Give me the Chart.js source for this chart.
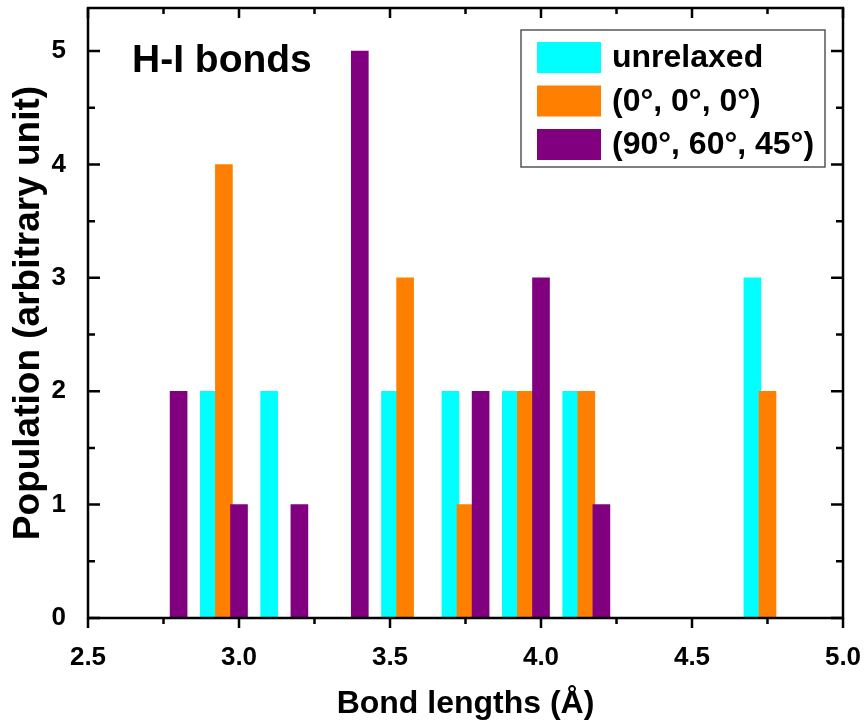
<!DOCTYPE html>
<html>
<head>
<meta charset="utf-8">
<script src="https://cdn.jsdelivr.net/npm/chart.js@4.4.1/dist/chart.umd.min.js"></script>
<style>
  html, body { margin: 0; padding: 0; background: #fff; }
  #wrap { width: 865px; height: 724px; }
</style>
</head>
<body>
<div id="wrap"><canvas id="bondChart"></canvas></div>
<script>
// H-I bond length populations (Å -> count) for each geometry
const unrelaxedLengths = [2.9, 3.1, 3.5, 3.7, 3.9, 4.1, 4.7];
const unrelaxedCounts  = [2, 2, 2, 2, 2, 2, 3];
const zeroLengths = [2.95, 3.55, 3.75, 3.95, 4.15, 4.75];
const zeroCounts  = [4, 3, 1, 2, 2, 2];
const rotLengths = [2.8, 3.0, 3.2, 3.4, 3.8, 4.0, 4.2];
const rotCounts  = [2, 1, 1, 5, 2, 3, 1];

const seriesLabels = ['unrelaxed', '(0°, 0°, 0°)', '(90°, 60°, 45°)'];
const seriesColors = ['#00FFFF', '#FF8000', '#800080'];
const xTicks = [2.5, 3.0, 3.5, 4.0, 4.5, 5.0];
const yTicks = [0, 1, 2, 3, 4, 5];

const FONT = '"Liberation Sans", Arial, sans-serif';

function toPoints(xs, ys) {
    return xs.map((x, i) => ({ x: x, y: ys[i] }));
}

// midpoints between major ticks give the minor ticks
function minorOf(ticks) {
    return ticks.slice(1).map((v, i) => (v + ticks[i]) / 2);
}

// box frame with ticks: outward on the bottom, inward everywhere else
const frameTicks = {
    id: 'frameTicks',
    afterDatasetsDraw(chart) {
        const { ctx, chartArea: a, scales: { x, y } } = chart;
        ctx.save();
        ctx.strokeStyle = '#000';
        ctx.lineWidth = 2.5;
        ctx.strokeRect(a.left, a.top, a.right - a.left, a.bottom - a.top);
        ctx.beginPath();
        const xMark = (v, len) => {
            const px = x.getPixelForValue(v);
            ctx.moveTo(px, a.bottom); ctx.lineTo(px, a.bottom + len);
            ctx.moveTo(px, a.top); ctx.lineTo(px, a.top + len);
        };
        const yMark = (v, len) => {
            const py = y.getPixelForValue(v);
            ctx.moveTo(a.left, py); ctx.lineTo(a.left + len, py);
            ctx.moveTo(a.right, py); ctx.lineTo(a.right - len, py);
        };
        xTicks.forEach(v => xMark(v, 10));
        minorOf(xTicks).forEach(v => xMark(v, 6));
        yTicks.forEach(v => yMark(v, 12));
        minorOf(yTicks).forEach(v => yMark(v, 7));
        ctx.stroke();
        ctx.restore();
    }
};

// boxed legend in the upper right and the panel label in the upper left
const panelLegend = {
    id: 'panelLegend',
    afterDraw(chart) {
        const { ctx, chartArea: a } = chart;
        ctx.save();

        ctx.fillStyle = '#000';
        ctx.font = 'bold 39px ' + FONT;
        ctx.textBaseline = 'alphabetic';
        ctx.textAlign = 'left';
        ctx.fillText('H-I bonds', a.left + 44, a.top + 64);

        const boxRight = a.right - 18;
        const boxLeft = boxRight - 304;
        const boxTop = a.top + 22;
        const boxH = 137;
        ctx.fillStyle = '#fff';
        ctx.fillRect(boxLeft, boxTop, boxRight - boxLeft, boxH);
        ctx.strokeStyle = '#555';
        ctx.lineWidth = 1.5;
        ctx.strokeRect(boxLeft, boxTop, boxRight - boxLeft, boxH);

        ctx.font = 'bold 32px ' + FONT;
        ctx.textBaseline = 'middle';
        chart.data.datasets.forEach((ds, i) => {
            const cy = boxTop + 27.5 + i * 43.5;
            ctx.fillStyle = ds.backgroundColor;
            ctx.fillRect(boxLeft + 16, cy - 15.5, 64, 31);
            ctx.fillStyle = '#000';
            ctx.fillText(ds.label, boxLeft + 91, cy + 1);
        });
        ctx.restore();
    }
};

const lengthSets = [unrelaxedLengths, zeroLengths, rotLengths];
const countSets = [unrelaxedCounts, zeroCounts, rotCounts];

const ctx = document.getElementById('bondChart').getContext('2d');
new Chart(ctx, {
    type: 'bar',
    data: {
        datasets: seriesLabels.map((label, i) => ({
            label: label,
            data: toPoints(lengthSets[i], countSets[i]),
            backgroundColor: seriesColors[i],
            borderWidth: 0,
            barThickness: 17,
            grouped: false,
            order: 3 - i
        }))
    },
    options: {
        responsive: true,
        maintainAspectRatio: false,
        animation: false,
        layout: { padding: { top: 8, right: 22, left: 0, bottom: 0 } },
        plugins: {
            legend: { display: false },
            tooltip: { enabled: false }
        },
        scales: {
            x: {
                type: 'linear',
                offset: false,
                min: 2.5,
                max: 5.0,
                afterBuildTicks: s => { s.ticks = xTicks.map(v => ({ value: v })); },
                afterFit: s => { s.height = 106; s.paddingLeft = 0; s.paddingRight = 0; },
                grid: { display: false },
                border: { display: false },
                ticks: {
                    color: '#000',
                    padding: 16,
                    maxRotation: 0,
                    font: { family: FONT, size: 26, weight: 'bold' },
                    callback: v => Number(v).toFixed(1)
                },
                title: {
                    display: true,
                    text: 'Bond lengths (Å)',
                    color: '#000',
                    padding: { top: 0, bottom: 4 },
                    font: { family: FONT, size: 32, weight: 'bold', lineHeight: 1 }
                }
            },
            y: {
                min: 0,
                max: 5.38,
                afterBuildTicks: s => { s.ticks = yTicks.map(v => ({ value: v })); },
                afterFit: s => { s.width = 88; s.paddingTop = 0; s.paddingBottom = 0; },
                grid: { display: false },
                border: { display: false },
                ticks: {
                    color: '#000',
                    padding: 14,
                    font: { family: FONT, size: 26, weight: 'bold' }
                },
                title: {
                    display: true,
                    text: 'Population (arbitrary unit)',
                    color: '#000',
                    padding: { top: 10, bottom: 0 },
                    font: { family: FONT, size: 37, weight: 'bold', lineHeight: 1 }
                }
            }
        }
    },
    plugins: [frameTicks, panelLegend]
});
</script>
</body>
</html>
